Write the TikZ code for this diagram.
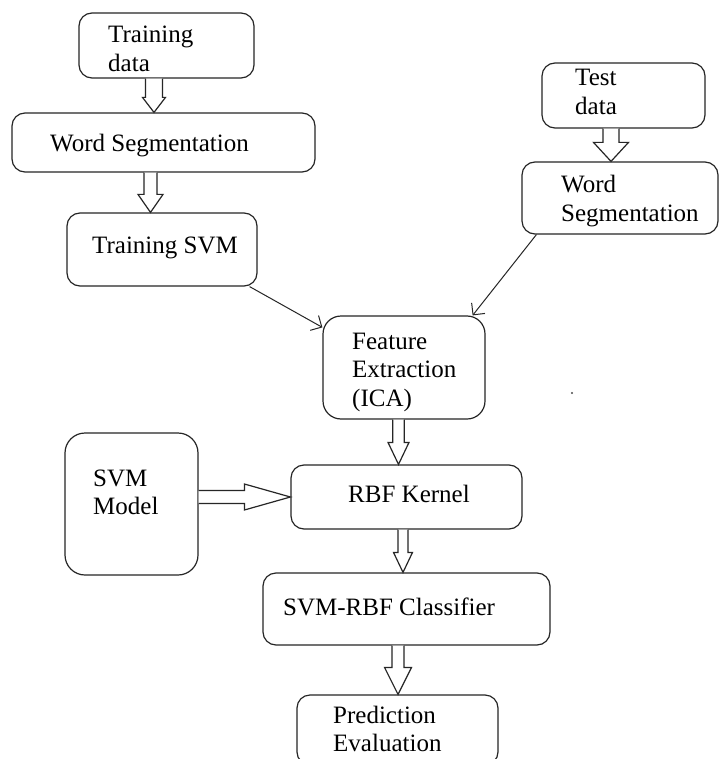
\documentclass[tikz,border=0pt]{standalone}
\usepackage{fontspec}
\setmainfont{Liberation Serif}
\usetikzlibrary{calc,arrows.meta}
\newcommand\txtlines[1]{\vtop{\halign{##\hfil\cr#1\crcr}}}
% vertical block arrow: #1 x, #2 from anchor, #3 to anchor, #4 shaft half width, #5 head half width, #6 head length
\newcommand\vblock[6]{%
  \draw[blk] let \p1=(#2), \p2=(#3) in
    ({(#1-#4)*1pt},\y1) -- ({(#1-#4)*1pt},{\y2+#6pt}) -- ({(#1-#5)*1pt},{\y2+#6pt})
    -- ({#1*1pt},\y2) -- ({(#1+#5)*1pt},{\y2+#6pt}) -- ({(#1+#4)*1pt},{\y2+#6pt})
    -- ({(#1+#4)*1pt},\y1);}
% horizontal block arrow: #1 y (pixels), #2 from, #3 to, #4 shaft half, #5 head half, #6 head length
\newcommand\hblock[6]{%
  \draw[blk] let \p1=(#2), \p2=(#3) in
    (\x1,{-(#1-#4)*1pt}) -- ({\x2-#6pt},{-(#1-#4)*1pt}) -- ({\x2-#6pt},{-(#1-#5)*1pt})
    -- (\x2,{-#1*1pt}) -- ({\x2-#6pt},{-(#1+#5)*1pt}) -- ({\x2-#6pt},{-(#1+#4)*1pt})
    -- (\x1,{-(#1+#4)*1pt});}
\begin{document}
\begin{tikzpicture}[x=1pt,y=-1pt,
  box/.style={draw=black!85, line width=1.2pt, rounded corners=13pt, inner sep=0pt},
  txt/.style={anchor=base west, inner sep=0pt, font=\fontsize{25}{28.5}\selectfont},
  blk/.style={draw=black!85, line width=1.2pt, fill=white, line join=miter},
  thin/.style={draw=black!85, line width=1pt, -{Straight Barb[angle=90:12pt]}}]
\path[use as bounding box, clip] (0,0) rectangle (719,759);
\fill[white] (0,0) rectangle (719,759);

% boxes
\node[box, minimum width=175pt, minimum height=65pt] (td) at (166.5,45.5) {};
\node[box, minimum width=303pt, minimum height=59pt] (ws1) at (163.5,142.5) {};
\node[box, minimum width=190pt, minimum height=73pt] (tsvm) at (162,249.5) {};
\node[box, minimum width=163pt, minimum height=65pt] (test) at (623.5,95.5) {};
\node[box, minimum width=196pt, minimum height=72pt] (ws2) at (620,198) {};
\node[box, rounded corners=18pt, minimum width=162pt, minimum height=103pt] (fe) at (404,367.5) {};
\node[box, rounded corners=20pt, minimum width=133pt, minimum height=142pt] (svmm) at (131.5,504) {};
\node[box, minimum width=231pt, minimum height=64pt] (rbf) at (406.5,497) {};
\node[box, minimum width=287pt, minimum height=72pt] (cls) at (406.5,609) {};
\node[box, minimum width=201pt, minimum height=70pt] (pe) at (397.5,730) {};

% texts
\node[txt] (tdt) at (108,43) {\txtlines{Training\cr data}};
\node[txt] (ws1t) at (50,152) {Word Segmentation};
\node[txt] (tsvmt) at (92,253) {Training SVM};
\node[txt] (testt) at (575,86) {\txtlines{Test\cr data}};
\node[txt] (ws2t) at (561,193) {\txtlines{Word\cr Segmentation}};
\node[txt] (fet) at (352,349) {\txtlines{Feature\cr Extraction\cr (ICA)}};
\node[txt] (svmmt) at (93,486) {\txtlines{SVM\cr Model}};
\node[txt] (rbft) at (348,502) {RBF Kernel};
\node[txt] (clst) at (283,615) {SVM-RBF Classifier};
\node[txt] (pet) at (333,723) {\txtlines{Prediction\cr Evaluation}};

% block arrows
\vblock{154}{td.south}{ws1.north}{8.5}{11.5}{15}
\vblock{150.5}{ws1.south}{tsvm.north}{6.5}{12.5}{18}
\vblock{611}{test.south}{ws2.north}{8}{17.5}{19}
\vblock{398.5}{fe.south}{rbf.north}{5.7}{10.5}{22}
\vblock{403}{rbf.south}{cls.north}{5}{9.5}{20}
\vblock{398}{cls.south}{pe.north}{6}{13.5}{27}
\hblock{497}{svmm.east}{rbf.west}{6.5}{13}{46}

% thin arrows
\draw[thin] ([xshift=-8pt]tsvm.south east) -- ([yshift=-12pt]fe.north west);
\draw[thin] ([xshift=15pt]ws2.south west) -- ([xshift=-13pt]fe.north east);

% stray dot
\fill[black!70] (572,393) circle (1.1pt);
\end{tikzpicture}
\end{document}
